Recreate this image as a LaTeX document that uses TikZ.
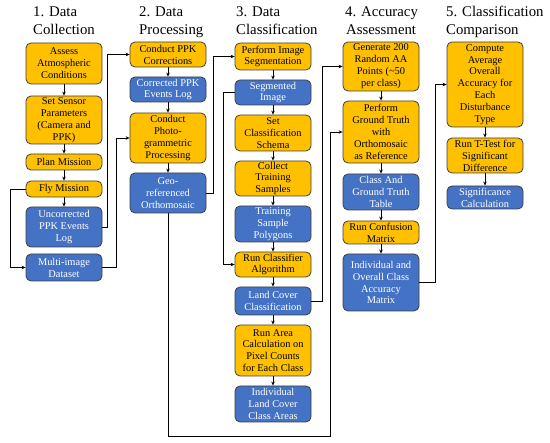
\documentclass[tikz,border=0pt]{standalone}
\usepackage{fontspec}
\setmainfont{Liberation Serif}
\usetikzlibrary{arrows.meta}
\definecolor{gold}{HTML}{FFC000}
\definecolor{bblue}{HTML}{4472C4}
\definecolor{edgec}{HTML}{404040}
\begin{document}
\begin{tikzpicture}[x=1pt,y=-1pt,
  box/.style={draw=edgec,line width=0.8pt,rounded corners=5pt,minimum width=76pt,inner sep=0.5pt,align=center,font=\fontsize{10.4}{11.9}\selectfont},
  obox/.style={box,fill=gold,text=black},
  bbox/.style={box,fill=bblue,text=white},
  arr/.style={line width=0.8pt,-{Stealth[length=4pt,width=3.5pt]}},
  ttl/.style={anchor=base west,inner sep=0pt,font=\fontsize{14.8}{18}\selectfont}
]
\fill[white] (0,0) rectangle (550,443);
\useasboundingbox (0,0) rectangle (550,443);

% titles
\node[ttl] (t1a) at (33,17) {1. Data};
\node[ttl] (t1b) at (33,35) {Collection};
\node[ttl] (t2a) at (139,17) {2. Data};
\node[ttl] (t2b) at (139,35) {Processing};
\node[ttl] (t3a) at (236,17) {3. Data};
\node[ttl] (t3b) at (236,35) {Classification};
\node[ttl] (t4a) at (345,17) {4. Accuracy};
\node[ttl] (t4b) at (346,35) {Assessment};
\node[ttl] (t5a) at (446,17) {5. Classification};
\node[ttl] (t5b) at (446,35) {Comparison};

% column 1
\node[obox,minimum height=41pt] (A1) at (64,63.5) {Assess\\Atmospheric\\Conditions};
\node[obox,minimum height=48pt] (A2) at (64,120) {Set Sensor\\Parameters\\(Camera and\\PPK)};
\node[obox,minimum height=16pt] (A3) at (64,162) {Plan Mission};
\node[obox,minimum height=16pt] (A4) at (64,189) {Fly Mission};
\node[bbox,minimum height=40pt] (A5) at (64,227) {Uncorrected\\PPK Events\\Log};
\node[bbox,minimum height=27pt] (A6) at (64,267.5) {Multi-image\\Dataset};

% column 2
\node[obox,minimum height=25pt] (B1) at (168,54.5) {Conduct PPK\\Corrections};
\node[bbox,minimum height=25pt] (B2) at (168,89.5) {Corrected PPK\\Events Log};
\node[obox,minimum height=50pt] (B3) at (168,138) {Conduct\\Photo-\\grammetric\\Processing};
\node[bbox,minimum height=40pt] (B4) at (168,193) {Geo-\\referenced\\Orthomosaic};

% column 3
\node[obox,minimum height=27pt] (C1) at (273,56.5) {Perform Image\\Segmentation};
\node[bbox,minimum height=25pt] (C2) at (273,92.5) {Segmented\\Image};
\node[obox,minimum height=36pt] (C3) at (273,133) {Set\\Classification\\Schema};
\node[obox,minimum height=35pt] (C4) at (273,178.5) {Collect\\Training\\Samples};
\node[bbox,minimum height=36pt] (C5) at (273,224) {Training\\Sample\\Polygons};
\node[obox,minimum height=25pt] (C6) at (273,264.5) {Run Classifier\\Algorithm};
\node[bbox,minimum height=28pt] (C7) at (273,301) {Land Cover\\Classification};
\node[obox,minimum height=51pt] (C8) at (273,350.5) {Run Area\\Calculation on\\Pixel Counts\\for Each Class};
\node[bbox,minimum height=36pt] (C9) at (273,404) {Individual\\Land Cover\\Class Areas};

% column 4
\node[obox,minimum height=49pt] (D1) at (381,66.5) {Generate 200\\Random AA\\Points (\textasciitilde50\\per class)};
\node[obox,minimum height=62pt] (D2) at (381,132) {Perform\\Ground Truth\\with\\Orthomosaic\\as Reference};
\node[bbox,minimum height=36pt] (D3) at (381,192) {Class And\\Ground Truth\\Table};
\node[obox,minimum height=23pt] (D4) at (381,232.5) {Run Confusion\\Matrix};
\node[bbox,minimum height=57pt] (D5) at (381,282.5) {Individual and\\Overall Class\\Accuracy\\Matrix};

% column 5
\node[obox,minimum height=85pt] (E1) at (485,84.5) {Compute\\Average\\Overall\\Accuracy for\\Each\\Disturbance\\Type};
\node[obox,minimum height=35pt] (E2) at (485,155.5) {Run T-Test for\\Significant\\Difference};
\node[bbox,minimum height=23pt] (E3) at (485,197.5) {Significance\\Calculation};

% vertical arrows
\foreach \a/\b in {A1/A2,A2/A3,A3/A4,A4/A5,B1/B2,B2/B3,B3/B4,C1/C2,C2/C3,C3/C4,C4/C5,C5/C6,C6/C7,C7/C8,C8/C9,D1/D2,D2/D3,D3/D4,D4/D5,E1/E2,E2/E3}
  \draw[arr] (\a.south) -- (\b.north);

% cross connectors
\draw[arr] (A4.west) -- ++(-15,0) |- (A6.west);
\draw[arr] (A5.east) -- ++(5,0) |- (B1.west);
\draw[arr] (A6.east) -- ++(14,0) |- (B3.west);
\draw[arr] (B4.east) -- ++(7,0) |- (C1.west);
\draw[arr] (B4.south) |- (330,436) |- (D2.west);
\draw[arr] (C2.west) -- ++(-11,0) |- (C6.west);
\draw[arr] (C7.east) -- ++(11,0) |- (D1.west);
\draw[arr] (D5.east) -- ++(16,0) |- (E1.west);
\end{tikzpicture}
\end{document}
